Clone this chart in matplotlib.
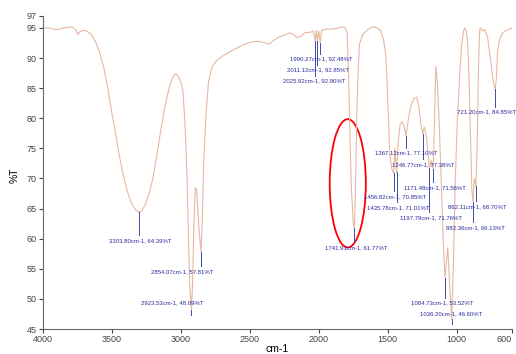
import matplotlib.pyplot as plt
from matplotlib.patches import Ellipse

# Spectrum points (wavenumber cm-1, %T)
wavenumber = [4000, 3950, 3900, 3870, 3820, 3790, 3760, 3746, 3730, 3700, 3681, 3650, 3620,
              3590, 3560, 3530, 3500, 3470, 3440, 3410, 3380, 3350, 3320, 3304, 3285, 3260,
              3230, 3200, 3170, 3140, 3110, 3080, 3055, 3040, 3020, 3000, 2985, 2970, 2955,
              2945, 2935, 2923.5, 2915, 2905, 2895, 2885, 2870, 2854, 2845, 2835, 2820, 2800,
              2775, 2740, 2700, 2650, 2600, 2550, 2500, 2450, 2400, 2360, 2330, 2290, 2250,
              2210, 2180, 2160, 2130, 2100, 2060, 2040, 2026, 2018, 2011, 2000, 1990, 1980,
              1950, 1900, 1860, 1830, 1810, 1795, 1785, 1775, 1765, 1750, 1742, 1735, 1725,
              1715, 1705, 1680, 1650, 1620, 1600, 1575, 1550, 1530, 1515, 1505, 1495, 1485,
              1470, 1457, 1448, 1440, 1436, 1425, 1410, 1395, 1380, 1367, 1350, 1330, 1310,
              1290, 1275, 1260, 1247, 1235, 1220, 1198, 1185, 1171, 1160, 1152, 1140, 1125,
              1110, 1095, 1085, 1075, 1065, 1050, 1036, 1025, 1010, 995, 980, 965, 950, 942,
              930, 920, 910, 900, 890, 882, 872, 862, 852, 845, 838, 833, 825, 815, 797, 785,
              775, 765, 754, 740, 730, 721, 713, 703, 690, 667, 640, 616, 600]
transmittance = [95.0, 95.0, 94.7, 94.9, 95.1, 95.2, 94.6, 93.9, 94.4, 94.6, 94.5, 93.9, 92.8,
                 91.0, 88.5, 85.0, 80.8, 77.0, 73.0, 69.8, 67.2, 65.5, 64.6, 64.4, 64.6, 65.6,
                 67.5, 70.3, 74.5, 78.8, 82.6, 85.5, 87.0, 87.4, 87.0, 86.0, 84.5, 79.0, 70.0,
                 60.0, 52.0, 48.1, 53.0, 63.0, 68.5, 68.0, 62.0, 57.8, 63.0, 72.0, 80.0, 86.0,
                 88.5, 89.6, 90.3, 91.0, 91.6, 92.2, 92.6, 92.8, 92.6, 92.3, 92.9, 93.5, 93.8,
                 94.2, 93.9, 93.4, 93.6, 94.2, 94.3, 94.5, 92.9, 94.6, 92.85, 94.5, 92.5, 94.6,
                 94.8, 94.8, 95.0, 95.2, 95.0, 94.3, 88.0, 78.0, 69.0, 62.5, 61.8, 67.0, 80.0,
                 88.0, 92.3, 94.0, 94.6, 95.1, 95.2, 95.0, 94.5, 93.0, 90.5, 86.0, 80.0, 74.0,
                 71.5, 70.85, 75.0, 72.0, 71.0, 76.0, 79.0, 79.5, 78.5, 77.1, 80.0, 82.2, 83.3,
                 83.5, 82.0, 79.0, 77.4, 78.5, 77.0, 71.8, 73.0, 71.6, 80.0, 88.6, 86.0, 78.0,
                 68.0, 58.0, 53.5, 56.0, 58.5, 52.0, 46.6, 55.0, 70.0, 80.0, 86.5, 92.0, 94.5, 95.0,
                 94.5, 92.5, 86.0, 77.0, 68.0, 66.1, 70.0, 68.7, 75.0, 85.0, 92.0, 94.8, 95.0,
                 94.5, 94.7, 94.0, 93.3, 91.5, 89.7, 87.0, 85.5, 84.85, 86.5, 91.3, 93.0, 94.2,
                 94.6, 94.8, 95.0]

# Peak annotations
peak_wn = [3303.80, 2854.07, 2923.53, 1990.27, 2011.12, 2025.92, 1741.91, 1367.12, 1246.77,
           1171.48, 1456.82, 1435.78, 1197.79, 862.11, 882.36, 721.20, 1084.73, 1036.20]
peak_t = [64.39, 57.81, 48.09, 92.48, 92.85, 92.90, 61.77, 77.10, 77.38,
          71.56, 70.85, 71.01, 71.76, 68.70, 66.13, 84.85, 53.52, 46.60]

# Label anchor positions (left edge wavenumber, %T) - layout only
label_x = [3522, 3217, 3290, 2210, 2232, 2261, 1957, 1594, 1471,
           1384, 1674, 1652, 1413, 1065, 1080, 1000, 1333, 1268]
label_y = [59.7, 54.5, 49.3, 89.8, 88.0, 86.2, 58.5, 74.2, 72.3,
           68.5, 67.0, 65.2, 63.5, 65.3, 61.8, 81.0, 49.3, 47.5]

font = ['Liberation Sans', 'DejaVu Sans']

fig = plt.figure(figsize=(5.16, 3.54), dpi=100)
ax = fig.add_axes([0.0833, 0.0706, 0.9087, 0.8844])

ax.plot(wavenumber, transmittance, color='#e6b8a2', linewidth=0.8)

for wn, t, lx, ly in zip(peak_wn, peak_t, label_x, label_y):
    end = ly + 0.9 if ly < t - 1 else t - 0.8
    ax.plot([wn, wn], [t, end], color='#3a4bb0', linewidth=0.7)
    ax.text(lx, ly, '%.2fcm-1, %.2f%%T' % (wn, t), fontsize=4.3, color='#2b2ba0',
            family=font, ha='left', va='center', clip_on=False)

ell = Ellipse((1790, 69.2), width=262, height=21.3, fill=False, edgecolor='red', linewidth=1.3)
ax.add_patch(ell)

ax.set_xlim(4000, 600)
ax.set_ylim(45, 97)
ax.set_xticks([4000, 3500, 3000, 2500, 2000, 1500, 1000, 600])
ax.set_yticks([45, 50, 55, 60, 65, 70, 75, 80, 85, 90, 95, 97])
for lab in ax.get_xticklabels() + ax.get_yticklabels():
    lab.set_family(font)
    lab.set_fontsize(6.5)
ax.get_xticklabels()[-1].set_ha('right')
ax.tick_params(colors='#444444', length=3, width=0.8, pad=1.5)
for s in ['top', 'right']:
    ax.spines[s].set_visible(False)
for s in ['left', 'bottom']:
    ax.spines[s].set_color('#666666')

ax.set_xlabel('cm-1', family=font, fontsize=7.5, labelpad=0)
ax.set_ylabel('%T', family=font, fontsize=7.5)
ax.yaxis.set_label_coords(-0.049, 0.49)

fig.savefig('out.png', dpi=100)
